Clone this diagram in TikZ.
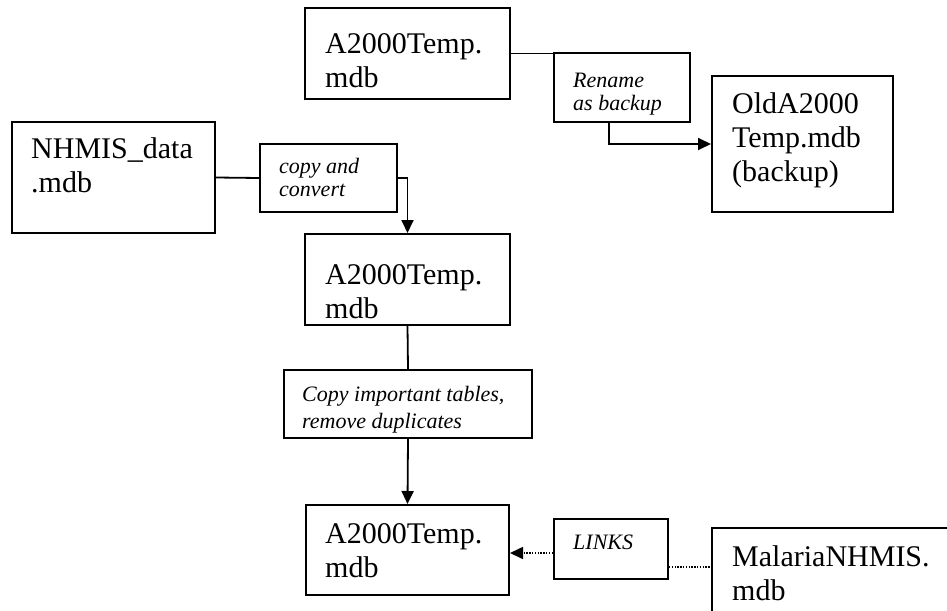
\documentclass[tikz,border=0pt]{standalone}
\usepackage{fontspec}
\setmainfont{Liberation Serif}
\usetikzlibrary{arrows.meta,positioning,calc}
\tikzset{
  dbbox/.style={draw, line width=2pt, inner sep=0pt, anchor=north west},
  dbtext/.style={font=\fontsize{30}{34}\selectfont, align=left, inner sep=0pt, anchor=base west},
  steptext/.style={font=\fontsize{22}{23}\selectfont\itshape, align=left, inner sep=0pt, anchor=base west},
  flow/.style={line width=1.8pt, -{Triangle[length=13pt,width=12pt]}},
  link/.style={line width=1.6pt, dash pattern=on 1.4pt off 1.4pt},
}

\begin{document}
\begin{tikzpicture}[x=1pt, y=-1pt]
    \useasboundingbox (0,0) rectangle (947,610);
    \clip (0,0) rectangle (947,610);

    % databases (text anchored at the baseline of its last line)
    \node [dbbox, minimum width=205pt, minimum height=91pt] (tmpold) at (304,7) {};
    \node [dbtext] (tmpoldtxt) at (325,88) {A2000Temp.\\mdb};
    \node [dbbox, minimum width=181pt, minimum height=136pt] (backup) at (711,75) {};
    \node [dbtext] (backuptxt) at (732,181) {OldA2000\\Temp.mdb\\(backup)};
    \node [dbbox, minimum width=203pt, minimum height=111pt] (nhmis) at (11,121) {};
    \node [dbtext] (nhmistxt) at (31,192) {NHMIS\_data\\.mdb};
    \node [dbbox, minimum width=205pt, minimum height=91pt] (tmpnew) at (304,233) {};
    \node [dbtext] (tmpnewtxt) at (325,318) {A2000Temp.\\mdb};
    \node [dbbox, minimum width=203pt, minimum height=90pt] (tmpfinal) at (305,504) {};
    \node [dbtext] (tmpfinaltxt) at (325,577) {A2000Temp.\\mdb};
    \node [dbbox, minimum width=280pt, minimum height=120pt] (malaria) at (711,527) {};
    \node [dbtext] (malariatxt) at (732,600) {MalariaNHMIS.\\mdb};

    % steps
    \node [dbbox, minimum width=136pt, minimum height=69pt] (rename) at (553,52) {};
    \begin{scope}
        \clip (553,52) rectangle (689,118);
        \node [steptext] (renametxt) at (573,110) {Rename\\as backup};
    \end{scope}
    \node [dbbox, minimum width=137pt, minimum height=68pt] (convert) at (259,143) {};
    \node [steptext] (converttxt) at (279,196) {copy and\\convert};
    \node [dbbox, minimum width=248pt, minimum height=68pt] (dedup) at (283,369) {};
    \begin{scope}
        \clip (283,369) rectangle (531,434);
        \node [steptext, font=\fontsize{22}{27}\selectfont\itshape] (deduptxt) at (302,428) {Copy important tables,\\remove duplicates};
    \end{scope}
    \node [dbbox, minimum width=114pt, minimum height=60pt] (links) at (553,518) {};
    \node [steptext] (linkstxt) at (573,549) {LINKS};

    % connectors
    \draw [line width=1.8pt] (tmpold.east) -- (tmpold.east -| rename.west);
    \draw [flow] ($(rename.south west)+(56,0)$) |- (backup.west);
    \draw [line width=1.8pt] (nhmis.east) -- (convert.west);
    \draw [flow] (convert.east) -| (tmpnew.north);
    \draw [line width=1.8pt] (tmpnew.south) -- (dedup.north);
    \draw [flow] (dedup.south) -- (tmpfinal.north);
    \coordinate (linkin) at ($(links.west)+(0,4)$);
    \draw [link, -{Triangle[length=13pt,width=12pt]}] (linkin) -- (linkin -| tmpfinal.east);
    \coordinate (linkout) at ($(links.east)+(0,18)$);
    \draw [link] (linkout) -- (linkout -| malaria.west);
\end{tikzpicture}
\end{document}
